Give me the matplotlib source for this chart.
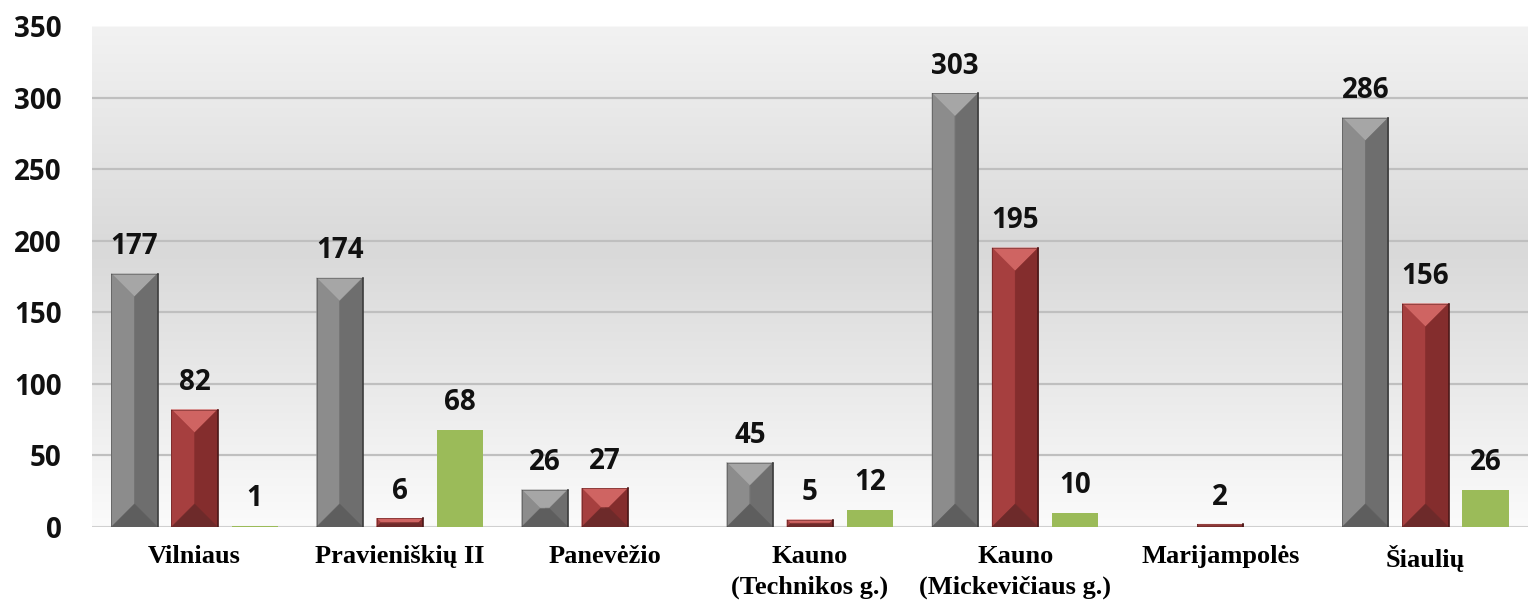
import numpy as np
import matplotlib
matplotlib.use("Agg")
import matplotlib.pyplot as plt
from matplotlib.patches import Polygon
from matplotlib.colors import LinearSegmentedColormap

categories = ["Vilniaus", "Pravieniškių II", "Panevėžio", "Kauno\n(Technikos g.)",
              "Kauno\n(Mickevičiaus g.)", "Marijampolės", "Šiaulių"]
series_gray = [177, 174, 26, 45, 303, np.nan, 286]
series_red = [82, 6, 27, 5, 195, 2, 156]
series_green = [1, 68, np.nan, 12, 10, np.nan, 26]
yticks = [0, 50, 100, 150, 200, 250, 300, 350]

SANS = "Open Sans"

fig = plt.figure(figsize=(15.28, 6.05), dpi=100)
ax = fig.add_axes([92 / 1528, 1 - 527 / 605, 1 - 92 / 1528, 501 / 605])
ax.set_xlim(-0.5, len(categories) - 0.5)
ax.set_ylim(0, 350)

# background gradient (light top, darker middle, near white at bottom)
bg = LinearSegmentedColormap.from_list("bg", [(0, "#fbfbfb"), (0.55, "#d9d9d9"), (1, "#f2f2f2")])
ax.imshow(np.linspace(0, 1, 256).reshape(-1, 1), cmap=bg, aspect="auto",
          extent=[0, 1, 0, 1], transform=ax.transAxes, origin="lower", zorder=0)

for t in yticks[1:-1]:
    ax.axhline(t, color="#bfbfbf", lw=1.6, zorder=1)
ax.axhline(350, color="#f8f8f8", lw=1.5, zorder=1)
ax.axhline(0, color="#d0d0d0", lw=1.5, zorder=1)

x = np.arange(len(categories))
step, w = 0.293, 0.225

bars_g = ax.bar(x - step, series_gray, w, color="#7f7f7f", zorder=2)
bars_r = ax.bar(x, series_red, w, color="#a03a3a", zorder=2)
bars_n = ax.bar(x + step, series_green, w, color="#9bbb59", zorder=2)

fig.canvas.draw()
px_x = ax.transData.transform((1, 0))[0] - ax.transData.transform((0, 0))[0]
px_y = ax.transData.transform((0, 1))[1] - ax.transData.transform((0, 0))[1]


def bevel(bars, top, left, right, bottom, edge):
    for b in bars:
        h = b.get_height()
        if not np.isfinite(h) or h <= 0:
            continue
        x0, bw = b.get_x(), b.get_width()
        x1 = x0 + bw
        d = min(bw * px_x / 2, h * px_y / 2)
        dx, dy = d / px_x, d / px_y
        ix0, ix1, iy0, iy1 = x0 + dx, x1 - dx, dy, h - dy
        xm = (x0 + x1) / 2
        faces = [
            ([(x0, h), (x1, h), (ix1, iy1), (ix0, iy1)], top),
            ([(x0, h), (ix0, iy1), (ix0, iy0), (x0, 0)], left),
            ([(x1, h), (ix1, iy1), (ix1, iy0), (x1, 0)], right),
            ([(x0, 0), (x1, 0), (ix1, iy0), (ix0, iy0)], bottom),
        ]
        # front face split into light left half / darker right half
        if ix1 > ix0:
            faces.append(([(ix0, iy1), (xm, iy1), (xm, iy0), (ix0, iy0)], left))
            faces.append(([(xm, iy1), (ix1, iy1), (ix1, iy0), (xm, iy0)], right))
        for pts, c in faces:
            ax.add_patch(Polygon(pts, closed=True, facecolor=c, edgecolor=c, lw=0.3, zorder=3))
        ax.plot([x1, x1], [0, h], color=edge, lw=1.2, zorder=4)
        ax.plot([x0, x0], [0, h], color=edge, lw=0.6, alpha=0.5, zorder=4)
        ax.plot([x0, x1], [h, h], color=edge, lw=0.6, alpha=0.5, zorder=4)


bevel(bars_g, "#a6a6a6", "#8c8c8c", "#6e6e6e", "#5e5e5e", "#3c3c3c")
bevel(bars_r, "#cf6462", "#a63f3f", "#842d2d", "#6d2a2a", "#4a1717")

for bars in (bars_g, bars_r, bars_n):
    for b in bars:
        h = b.get_height()
        if not np.isfinite(h):
            continue
        ax.annotate(f"{h:g}", (b.get_x() + b.get_width() / 2, h), xytext=(0, 9),
                    textcoords="offset points", ha="center", va="bottom",
                    fontsize=20, fontweight="bold", family=SANS, color="#111111", zorder=5)

ax.set_xticks(x)
ax.set_xticklabels(categories, family="Liberation Serif", fontweight="bold",
                   fontsize=19, linespacing=1.4, va="top")
ax.set_yticks(yticks)
ax.set_yticklabels([str(t) for t in yticks], family=SANS, fontweight="bold",
                   fontsize=20, color="#111111")
ax.tick_params(axis="x", length=0, pad=13)
ax.tick_params(axis="y", length=0, pad=22)
for s in ax.spines.values():
    s.set_visible(False)

fig.savefig("out.png", dpi=100)
